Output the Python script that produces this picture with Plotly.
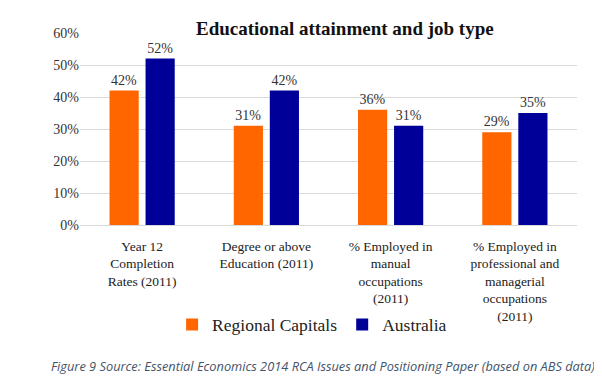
import plotly.graph_objects as go

categories = [
    "Year 12<br>Completion<br>Rates (2011)",
    "Degree or above<br>Education (2011)",
    "% Employed in<br>manual<br>occupations<br>(2011)",
    "% Employed in<br>professional and<br>managerial<br>occupations<br>(2011)",
]
regional_capitals = [42, 31, 36, 29]
australia = [52, 42, 31, 35]
y_ticks = [0, 10, 20, 30, 40, 50, 60]
y_tick_labels = ["0%", "10%", "20%", "30%", "40%", "50%", "60%"]

serif = "Liberation Serif, Times New Roman, serif"

fig = go.Figure()
fig.add_trace(go.Bar(
    x=categories, y=regional_capitals, name="Regional Capitals",
    marker=dict(color="#FF6600", line=dict(width=0)),
    text=[f"{v}%" for v in regional_capitals], textposition="outside",
    textfont=dict(family=serif, size=14, color="#333333"), cliponaxis=False,
))
fig.add_trace(go.Bar(
    x=categories, y=australia, name="Australia",
    marker=dict(color="#000099", line=dict(width=0)),
    text=[f"{v}%" for v in australia], textposition="outside",
    textfont=dict(family=serif, size=14, color="#333333"), cliponaxis=False,
))

fig.update_layout(
    width=594, height=375,
    margin=dict(l=72, r=25, t=25, b=158),
    paper_bgcolor="white", plot_bgcolor="white",
    barmode="group", bargap=0.42, bargroupgap=0.19,
    showlegend=True,
    legend=dict(orientation="h", x=0.467, xanchor="center", y=-0.425, yanchor="top",
                font=dict(family=serif, size=17.5, color="#222222"),
                itemwidth=30, traceorder="normal"),
    font=dict(family=serif, color="#333333"),
)
fig.update_yaxes(
    range=[0, 60], tickvals=y_ticks, ticktext=y_tick_labels,
    showgrid=True, gridcolor="#D9D9D9", gridwidth=1,
    zeroline=True, zerolinecolor="#D9D9D9", zerolinewidth=1,
    showline=False, ticks="", ticklen=0,
    tickfont=dict(family=serif, size=14, color="#333333"),
)
fig.update_xaxes(
    showline=False, ticks="", tickangle=0, ticklabelstandoff=11,
    tickfont=dict(family=serif, size=13.5, color="#222222"),
)

fig.add_annotation(
    text="<b>Educational attainment and job type</b>",
    xref="paper", yref="paper", x=0.533, y=1.026, xanchor="center", yanchor="middle",
    showarrow=False, font=dict(family=serif, size=19, color="#111111"),
)
fig.add_annotation(
    text="<i>Figure 9 Source: Essential Economics 2014 RCA Issues and Positioning Paper (based on ABS data)</i>",
    xref="paper", yref="paper", x=1.04, y=-0.734, xanchor="right", yanchor="middle",
    showarrow=False, font=dict(family="Open Sans, Liberation Sans, sans-serif", size=12.8, color="#44546A"),
)

fig.write_html("out.html")
